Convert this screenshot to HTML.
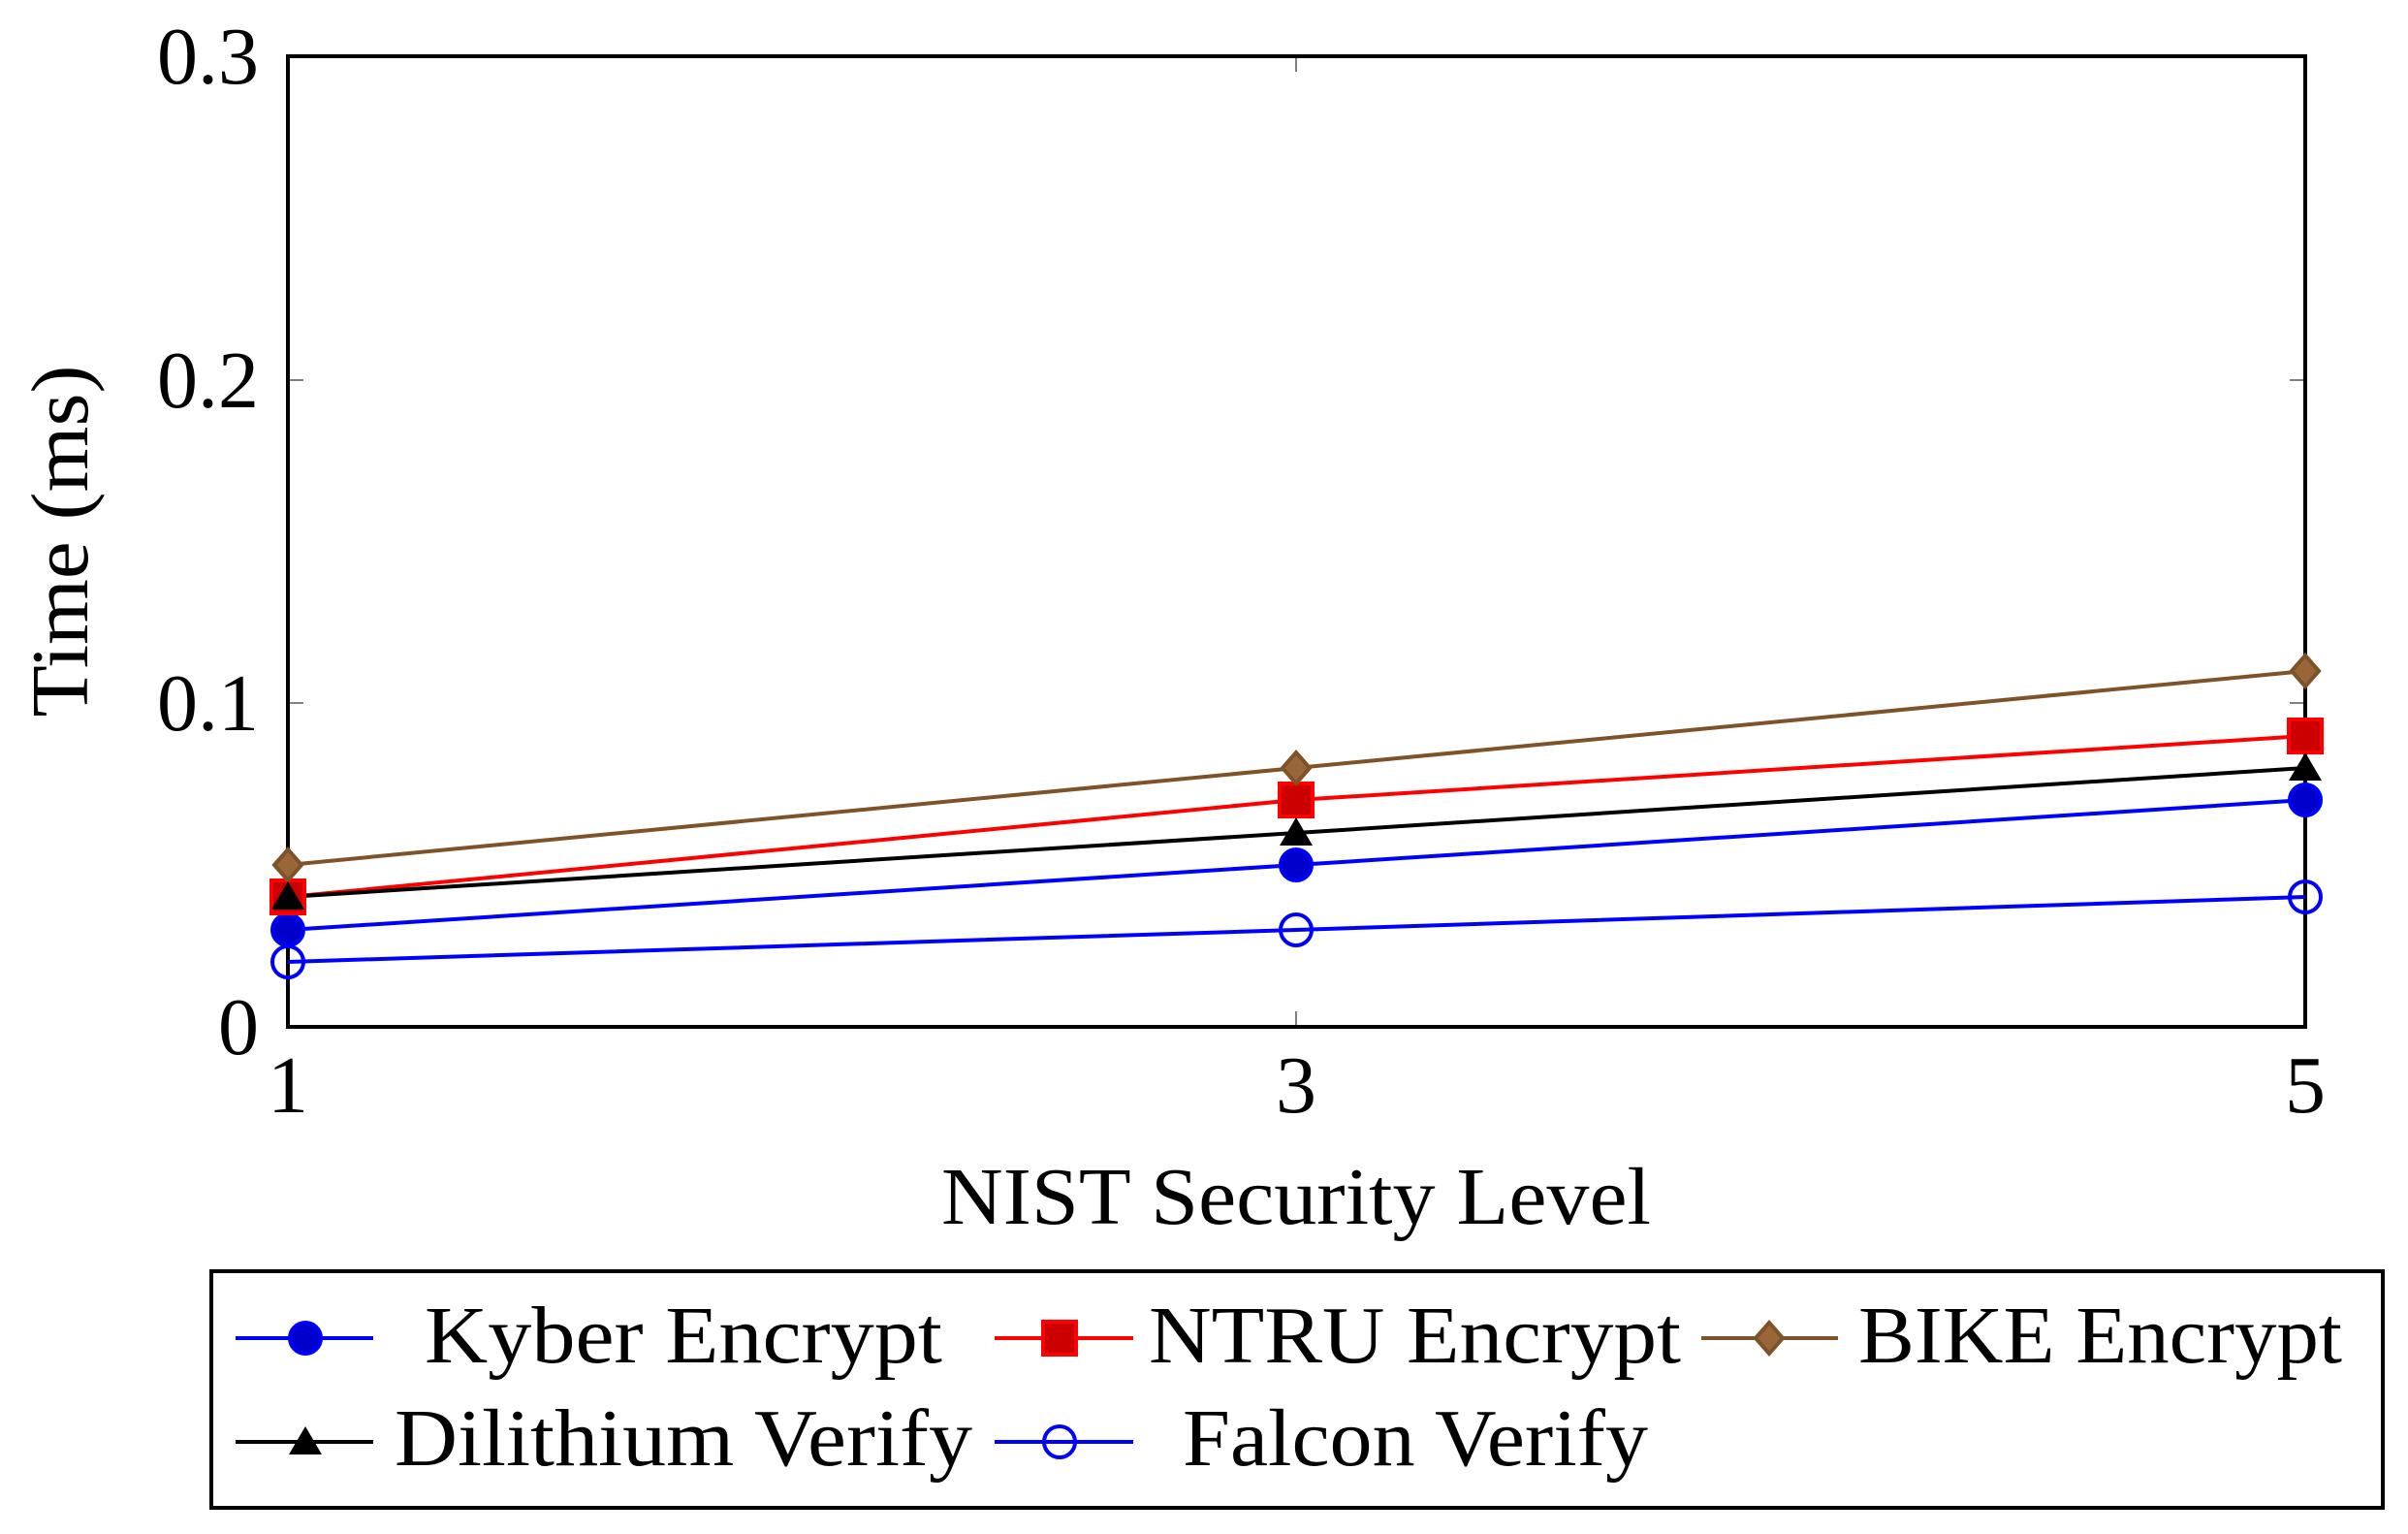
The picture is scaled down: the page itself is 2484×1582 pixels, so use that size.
<!DOCTYPE html>
<html><head><meta charset="utf-8"><style>
html,body{margin:0;padding:0;background:#fff;}
svg{display:block;}
text{font-family:"Liberation Serif",serif;fill:#000;}
</style></head><body>
<svg width="2484" height="1582" viewBox="0 0 2484 1582" xmlns="http://www.w3.org/2000/svg">
<rect width="2484" height="1582" fill="#fff"/>
<!-- ticks -->
<g stroke="#808080" stroke-width="2">
<line x1="1337" y1="1059" x2="1337" y2="1043"/><line x1="1337" y1="58" x2="1337" y2="74"/>
<line x1="297" y1="725" x2="313" y2="725"/><line x1="2378" y1="725" x2="2362" y2="725"/>
<line x1="297" y1="392" x2="313" y2="392"/><line x1="2378" y1="392" x2="2362" y2="392"/>
</g>
<rect x="297" y="58" width="2081" height="1001" fill="none" stroke="#000" stroke-width="4"/>
<!-- y labels -->
<g font-size="84" text-anchor="end">
<text x="267" y="86">0.3</text>
<text x="267" y="420">0.2</text>
<text x="267" y="753">0.1</text>
<text x="267" y="1087">0</text>
</g>
<g font-size="84" text-anchor="middle">
<text x="297" y="1147">1</text>
<text x="1337" y="1147">3</text>
<text x="2378" y="1147">5</text>
<text x="1337" y="1262" textLength="732" lengthAdjust="spacingAndGlyphs">NIST Security Level</text>
<text transform="translate(90,558) rotate(-90)" textLength="363" lengthAdjust="spacingAndGlyphs">Time (ms)</text>
</g>
<!-- series -->
<g fill="none" stroke-width="4">
<polyline points="297,959 1337,892 2378,825" stroke="#0000ff"/>
<polyline points="297,925 1337,825 2378,759" stroke="#ff0000"/>
<polyline points="297,892 1337,792 2378,692" stroke="#7f5228"/>
<polyline points="297,925 1337,859 2378,792" stroke="#000"/>
<polyline points="297,992 1337,959 2378,925" stroke="#0000ff"/>
</g>
<defs>
<g id="mk"><circle r="16" fill="#0000cc" stroke="#0000ff" stroke-width="4"/></g>
<g id="ms"><rect x="-17" y="-17" width="34" height="34" fill="#cc0000" stroke="#ff0000" stroke-width="4"/></g>
<g id="md"><polygon points="0,-16 14,0 0,16 -14,0" fill="#99663a" stroke="#7f5228" stroke-width="4"/></g>
<g id="mt"><polygon points="0,-16 17,13 -17,13" fill="#000"/></g>
<g id="mo"><circle r="16" fill="none" stroke="#0000ff" stroke-width="4"/></g>
</defs>
<use href="#mk" x="297" y="959"/><use href="#mk" x="1337" y="892"/><use href="#mk" x="2378" y="825"/>
<use href="#ms" x="297" y="925"/><use href="#ms" x="1337" y="825"/><use href="#ms" x="2378" y="759"/>
<use href="#md" x="297" y="892"/><use href="#md" x="1337" y="792"/><use href="#md" x="2378" y="692"/>
<use href="#mt" x="297" y="925"/><use href="#mt" x="1337" y="859"/><use href="#mt" x="2378" y="792"/>
<use href="#mo" x="297" y="992"/><use href="#mo" x="1337" y="959"/><use href="#mo" x="2378" y="925"/>
<!-- legend -->
<rect x="218" y="1311" width="2240" height="244" fill="none" stroke="#000" stroke-width="4"/>
<g stroke-width="4">
<line x1="243" y1="1380" x2="385" y2="1380" stroke="#0000ff"/>
<line x1="1026" y1="1380" x2="1169" y2="1380" stroke="#ff0000"/>
<line x1="1755" y1="1380" x2="1896" y2="1380" stroke="#7f5228"/>
<line x1="243" y1="1487" x2="385" y2="1487" stroke="#000"/>
<line x1="1026" y1="1487" x2="1169" y2="1487" stroke="#0000ff"/>
</g>
<use href="#mk" x="315" y="1380"/>
<use href="#ms" x="1093" y="1380"/>
<use href="#md" x="1825" y="1380"/>
<use href="#mt" x="315" y="1487"/>
<use href="#mo" x="1093" y="1487"/>
<g font-size="84" lengthAdjust="spacingAndGlyphs">
<text x="438" y="1405" textLength="534" lengthAdjust="spacingAndGlyphs">Kyber Encrypt</text>
<text x="1185" y="1405" textLength="549" lengthAdjust="spacingAndGlyphs">NTRU Encrypt</text>
<text x="1917" y="1405" textLength="499" lengthAdjust="spacingAndGlyphs">BIKE Encrypt</text>
<text x="407" y="1511" textLength="596" lengthAdjust="spacingAndGlyphs">Dilithium Verify</text>
<text x="1220" y="1511" textLength="480" lengthAdjust="spacingAndGlyphs">Falcon Verify</text>
</g>
</svg>
</body></html>
